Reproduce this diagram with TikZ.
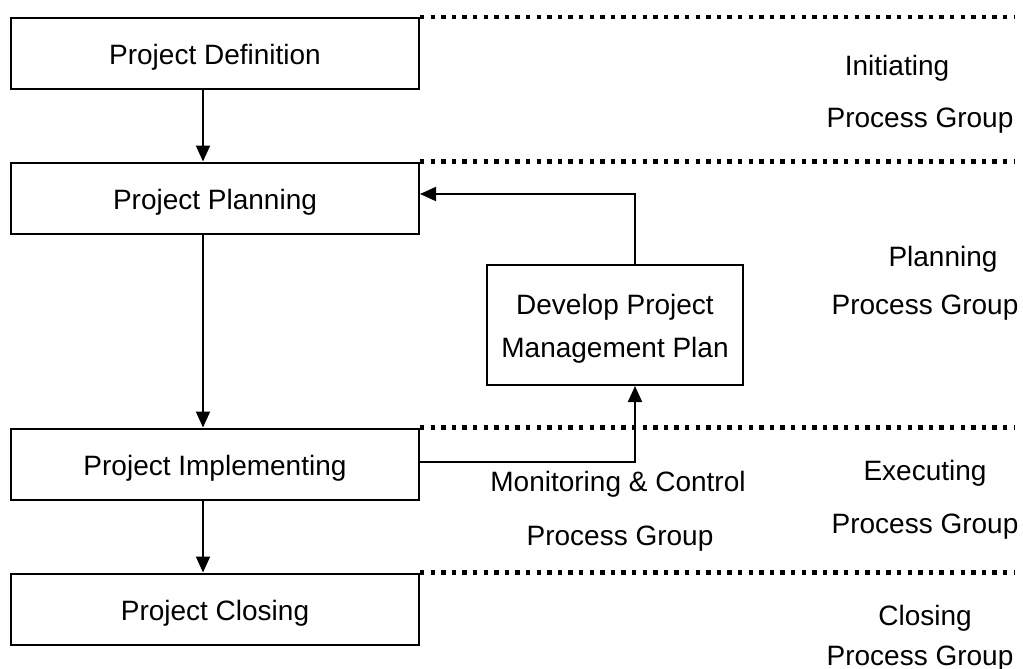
\documentclass[tikz,border=0pt]{standalone}
\usepackage{fontspec}
\setmainfont{Liberation Sans}
\usetikzlibrary{arrows.meta}
\begin{document}
\begin{tikzpicture}[x=0.5pt,y=-0.5pt,
  box/.style={draw,line width=1pt,minimum width=204pt,minimum height=35.5pt,inner sep=0pt,font=\fontsize{14}{16}\selectfont},
  lbl/.style={inner sep=0pt,font=\fontsize{14}{16}\selectfont},
  sep/.style={line width=2.2pt,dash pattern=on 2.2pt off 3.1pt},
  arr/.style={line width=1pt,-{Triangle[length=8pt,width=7pt]}},
  conn/.style={line width=1pt}]
\useasboundingbox (0,0) rectangle (1023,669);
\node[box] (def) at (215,53.5) {};
\node[box] (plan) at (215,198) {};
\node[box] (impl) at (215,464) {};
\node[box] (clos) at (215,609) {};
\node[lbl] (deft) at (215,57) {Project Definition};
\node[lbl] (plant) at (215,202) {Project Planning};
\node[lbl] (implt) at (215,468) {Project Implementing};
\node[lbl] (clost) at (215,613) {Project Closing};
\node[draw,line width=1pt,minimum width=128pt,minimum height=60pt,inner sep=0pt] (dev) at (615,325) {};
\node[lbl] (dev1) at (615,307) {Develop Project};
\node[lbl] (dev2) at (615,350) {Management Plan};
\node[lbl] (i1) at (897,68) {Initiating};
\node[lbl] (i2) at (920,121) {Process Group};
\node[lbl] (p1) at (943,259) {Planning};
\node[lbl] (p2) at (925,308) {Process Group};
\node[lbl] (e1) at (925,473) {Executing};
\node[lbl] (e2) at (925,527) {Process Group};
\node[lbl] (c1) at (925,618) {Closing};
\node[lbl] (c2) at (920,659) {Process Group};
\node[lbl] (m1) at (618,484) {Monitoring \& Control};
\node[lbl] (m2) at (620,539) {Process Group};
\coordinate (e0) at (1015,0);
\draw[sep] (def.north east) -- (def.north east -| e0);
\draw[sep] (plan.north east) -- (plan.north east -| e0);
\draw[sep] (impl.north east) -- (impl.north east -| e0);
\draw[sep] (clos.north east) -- (clos.north east -| e0);
\draw[arr] (def.south -| 203,0) -- (plan.north -| 203,0);
\draw[arr] (plan.south -| 203,0) -- (impl.north -| 203,0);
\draw[arr] (impl.south -| 203,0) -- (clos.north -| 203,0);
\coordinate (up) at (635,194);
\coordinate (lo) at (635,462);
\draw[arr] (dev.north -| up) -- (up) -- (plan.east |- up);
\draw[arr] (impl.east |- lo) -- (lo) -- (dev.south -| lo);
\end{tikzpicture}
\end{document}
